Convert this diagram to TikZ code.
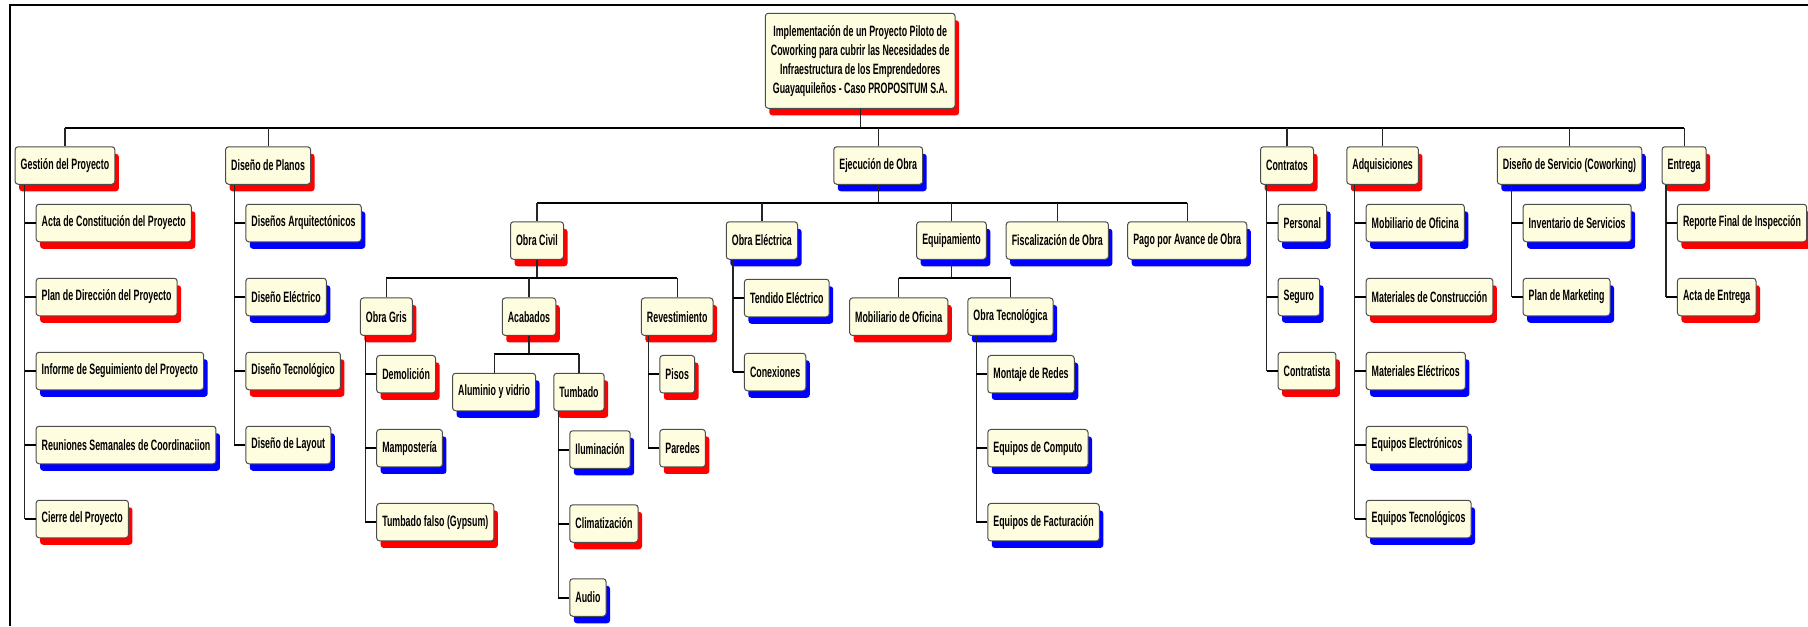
\documentclass[tikz,border=0pt]{standalone}
\usepackage{fontspec}
\newfontfamily\wbsfont{Liberation Sans}[FakeStretch=0.59]
\usetikzlibrary{shadows}
\definecolor{cream}{RGB}{255,253,224}
\tikzset{
  wbs/.style={draw=black!70, fill=cream, rounded corners=1.5pt, line width=0.5pt,
    font=\wbsfont\bfseries\fontsize{7.5}{9.5}\selectfont,
    minimum height=18.75pt, inner xsep=2.8pt, inner ysep=0pt},
  redbox/.style={wbs, drop shadow={shadow xshift=2pt, shadow yshift=-3.5pt, fill=red, opacity=1}},
  bluebox/.style={wbs, drop shadow={shadow xshift=2pt, shadow yshift=-3.5pt, fill=blue, opacity=1}},
  kid/.style={anchor=west},
  bus/.style={line width=1pt},
  link/.style={line width=0.6pt, black!85},
  stub/.style={line width=1pt}
}
\begin{document}
\begin{tikzpicture}[x=0.5pt,y=-0.5pt]
 \useasboundingbox (0,0) rectangle (1808,626);
 \draw[line width=1pt] (10,626) -- (10,5) -- (1808,5);
 \node[redbox, align=center, minimum width=94.9pt, minimum height=47.5pt] (root) at (860.2,60.8)
   {Implementación de un Proyecto Piloto de\\Coworking para cubrir las Necesidades de\\Infraestructura de los Emprendedores\\Guayaquileños - Caso PROPOSITUM S.A.};
 \node[redbox] (gp) at (65,165.5) {Gestión del Proyecto};
 \node[redbox] (dp) at (268.1,165.5) {Diseño de Planos};
 \node[bluebox] (ej) at (878.2,165.5) {Ejecución de Obra};
 \node[redbox] (ct) at (1287,165.5) {Contratos};
 \node[redbox] (aq) at (1382.6,165.5) {Adquisiciones};
 \node[bluebox] (ds) at (1569.5,165.5) {Diseño de Servicio (Coworking)};
 \node[redbox] (en) at (1684.1,165.5) {Entrega};
 \node[redbox] (oc) at (537,240.5) {Obra Civil};
 \node[bluebox] (oe) at (761.9,240.5) {Obra Eléctrica};
 \node[bluebox] (eq) at (951.5,240.5) {Equipamiento};
 \node[bluebox] (fo) at (1057.3,240.5) {Fiscalización de Obra};
 \node[bluebox] (pa) at (1187.2,240.5) {Pago por Avance de Obra};
 \node[redbox] (og) at (386.4,316.7) {Obra Gris};
 \node[redbox] (ac) at (529,316.7) {Acabados};
 \node[redbox] (rv) at (677.2,316.7) {Revestimiento};
 \node[redbox] (mo) at (898.7,316.7) {Mobiliario de Oficina};
 \node[bluebox] (ot) at (1010.5,316.7) {Obra Tecnológica};
 \node[bluebox] (al) at (494.1,392) {Aluminio y vidrio};
 \node[redbox] (tu) at (579,392) {Tumbado};
 \node[redbox,kid] (gp1) at (35.6,223) {Acta de Constitución del Proyecto};
 \node[redbox,kid] (gp2) at (35.6,297) {Plan de Dirección del Proyecto};
 \node[bluebox,kid] (gp3) at (35.6,371) {Informe de Seguimiento del Proyecto};
 \node[bluebox,kid] (gp4) at (35.6,445) {Reuniones Semanales de Coordinaciion};
 \node[redbox,kid] (gp5) at (35.6,519) {Cierre del Proyecto};
 \node[bluebox,kid] (dp1) at (245.3,223) {Diseños Arquitectónicos};
 \node[bluebox,kid] (dp2) at (245.3,297) {Diseño Eléctrico};
 \node[redbox,kid] (dp3) at (245.3,371) {Diseño Tecnológico};
 \node[bluebox,kid] (dp4) at (245.3,445) {Diseño de Layout};
 \node[redbox,kid] (og1) at (376.2,374.2) {Demolición};
 \node[bluebox,kid] (og2) at (376.2,448.2) {Mampostería};
 \node[redbox,kid] (og3) at (376.2,522.2) {Tumbado falso (Gypsum)};
 \node[bluebox,kid] (tu1) at (569.3,449.5) {Iluminación};
 \node[redbox,kid] (tu2) at (569.3,523.5) {Climatización};
 \node[bluebox,kid] (tu3) at (569.3,597.5) {Audio};
 \node[redbox,kid] (rv1) at (659.3,374.2) {Pisos};
 \node[redbox,kid] (rv2) at (659.3,448.2) {Paredes};
 \node[bluebox,kid] (oe1) at (743.9,298) {Tendido Eléctrico};
 \node[bluebox,kid] (oe2) at (743.9,372) {Conexiones};
 \node[bluebox,kid] (ot1) at (987.3,374.2) {Montaje de Redes};
 \node[bluebox,kid] (ot2) at (987.3,448.2) {Equipos de Computo};
 \node[bluebox,kid] (ot3) at (987.3,522.2) {Equipos de Facturación};
 \node[bluebox,kid] (ct1) at (1277.5,223) {Personal};
 \node[bluebox,kid] (ct2) at (1277.5,297) {Seguro};
 \node[redbox,kid] (ct3) at (1277.5,371) {Contratista};
 \node[bluebox,kid] (aq1) at (1365.6,223) {Mobiliario de Oficina};
 \node[redbox,kid] (aq2) at (1365.6,297) {Materiales de Construcción};
 \node[bluebox,kid] (aq3) at (1365.6,371) {Materiales Eléctricos};
 \node[bluebox,kid] (aq4) at (1365.6,445) {Equipos Electrónicos};
 \node[bluebox,kid] (aq5) at (1365.6,519) {Equipos Tecnológicos};
 \node[bluebox,kid] (ds1) at (1522.6,223) {Inventario de Servicios};
 \node[bluebox,kid] (ds2) at (1522.6,297) {Plan de Marketing};
 \node[redbox,kid] (en1) at (1676.9,223) {Reporte Final de Inspección};
 \node[redbox,kid] (en2) at (1676.9,297) {Acta de Entrega};
 \coordinate (b0) at (0,127.7);
 \coordinate (b1) at (0,202.7);
 \coordinate (b2) at (0,278.3);
 \coordinate (b3) at (0,354.3);
 \draw[link] (root.south) -- (root.south |- b0);
 \draw[bus] (gp.north |- b0) -- (en.north |- b0);
 \foreach \n in {gp,dp,ej,ct,aq,ds,en} \draw[link] (\n.north) -- (\n.north |- b0);
 \draw[link] (ej.south) -- (ej.south |- b1);
 \draw[bus] (oc.north |- b1) -- (pa.north |- b1);
 \foreach \n in {oc,oe,eq,fo,pa} \draw[link] (\n.north) -- (\n.north |- b1);
 \draw[link] (oc.south) -- (oc.south |- b2);
 \draw[bus] (og.north |- b2) -- (rv.north |- b2);
 \foreach \n in {og,ac,rv} \draw[link] (\n.north) -- (\n.north |- b2);
 \draw[link] (eq.south) -- (eq.south |- b2);
 \draw[bus] (mo.north |- b2) -- (ot.north |- b2);
 \foreach \n in {mo,ot} \draw[link] (\n.north) -- (\n.north |- b2);
 \draw[link] (ac.south) -- (ac.south |- b3);
 \draw[bus] (al.north |- b3) -- (tu.north |- b3);
 \foreach \n in {al,tu} \draw[link] (\n.north) -- (\n.north |- b3);
 \foreach \p/\m in {gp/5,dp/4,og/3,tu/3,rv/2,oe/2,ot/3,ct/3,aq/5,ds/2,en/2}{
   \coordinate (\p col) at ([xshift=-5.5pt]\p1.west);
   \draw[link] (\p col |- \p.south) -- (\p col |- \p\m.west);
   \foreach \k in {1,...,\m} \draw[stub] (\p\k.west) -- (\p\k.west -| \p col);
 }
\end{tikzpicture}
\end{document}
